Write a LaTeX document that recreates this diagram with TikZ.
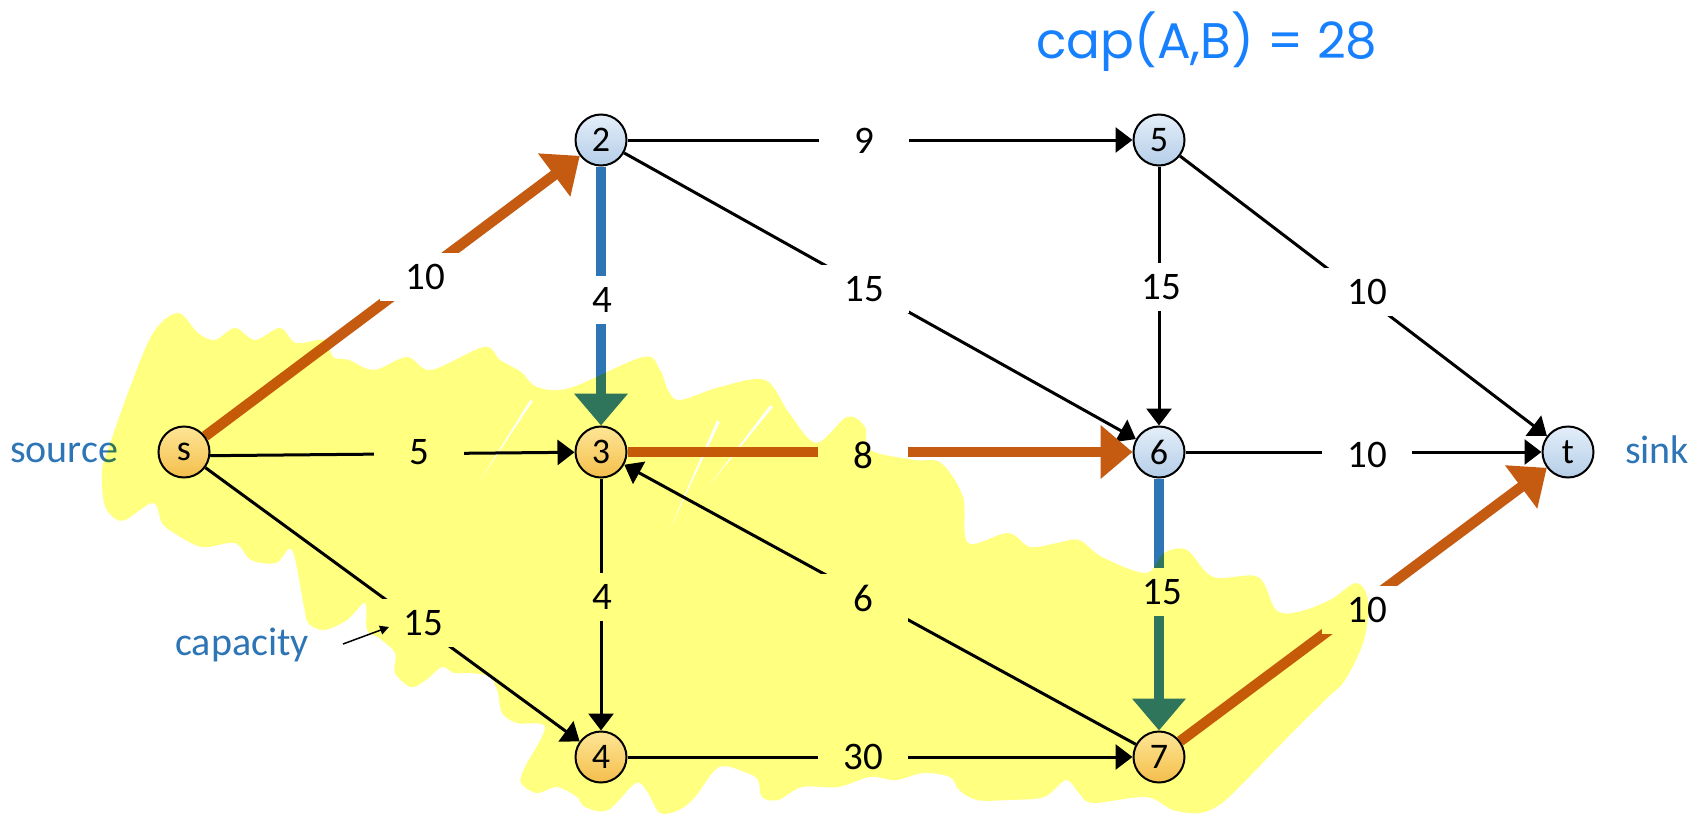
\documentclass[tikz,border=0pt]{standalone}
\usepackage{fontspec}
\setmainfont{Carlito}
\newfontfamily\handfont{Poppins}
\usetikzlibrary{arrows.meta}
\pgfdeclarelayer{edgelayer}
\pgfdeclarelayer{inklayer}
\pgfsetlayers{edgelayer,inklayer,main}

\definecolor{flowor}{RGB}{197,90,17}
\definecolor{flowbl}{RGB}{46,117,182}
\definecolor{inkyel}{RGB}{255,255,128}
\definecolor{inkblue}{RGB}{22,128,255}
\definecolor{sideblue}{RGB}{46,117,182}
\definecolor{vbtop}{RGB}{228,238,249}
\definecolor{vbbot}{RGB}{180,206,232}
\definecolor{votop}{RGB}{254,230,150}
\definecolor{vobot}{RGB}{244,190,75}

\begin{document}
\begin{tikzpicture}[x=1pt,y=-1pt,
  vert/.style={circle,draw=black,line width=2pt,minimum size=51pt,inner sep=0pt,
    font=\fontsize{36}{42}\selectfont},
  vb/.style={vert,top color=vbtop,bottom color=vbbot},
  vo/.style={vert,top color=votop,bottom color=vobot},
  wlabel/.style={fill=white,minimum width=90pt,minimum height=48pt,inner sep=0pt,
    font=\fontsize{39}{46}\selectfont},
  plain/.style={draw=black,line width=3pt,-{Triangle[length=17pt,width=25pt]}},
  cutor/.style={draw=flowor,line width=10.5pt,-{Triangle[length=32pt,width=52pt]}},
  cutbl/.style={draw=flowbl,line width=10.5pt,-{Triangle[length=32pt,width=52pt]}},
  side/.style={text=sideblue,font=\fontsize{40}{46}\selectfont,anchor=base},
  pointer/.style={draw=black,line width=1.5pt,-{Triangle[length=9pt,width=9pt]}}
]
\useasboundingbox (0,0) rectangle (1708,816);

% vertices
\node[vo] (s)  at (184,452)  {s};
\node[vb] (n2) at (601,140)  {2};
\node[vo] (n3) at (601,452)  {3};
\node[vo] (n4) at (601,757)  {4};
\node[vb] (n5) at (1159,140) {5};
\node[vb] (n6) at (1159,452) {6};
\node[vo] (n7) at (1159,757) {7};
\node[vb] (t)  at (1568,452) {t};

\begin{pgfonlayer}{edgelayer}
  \fill[white] (0,0) rectangle (1708,816);

  % arcs
  \draw[cutor] (s) -- (n2);
  \draw[plain] (n2) -- (n5);
  \draw[cutbl] (n2) -- (n3);
  \draw[plain] (n2) -- (n6);
  \draw[plain] (n5) -- (n6);
  \draw[plain] (n5) -- (t);
  \draw[plain] (s.-8) -- (n3);
  \draw[cutor] (n3) -- (n6);
  \draw[plain] (n6) -- (t);
  \draw[plain] (s) -- (n4);
  \draw[plain] (n3) -- (n4);
  \draw[plain] (n7) -- (n3);
  \draw[cutbl] (n6) -- (n7);
  \draw[cutor] (n7) -- (t);
  \draw[plain] (n4) -- (n7);

  % capacities
  \node[wlabel] (c12) at (425,277)  {10};
  \node[wlabel] (c25) at (864,141)  {9};
  \node[wlabel] (c23) at (602,300)  {4};
  \node[wlabel] (c26) at (864,289)  {15};
  \node[wlabel] (c56) at (1161,287) {15};
  \node[wlabel] (c5t) at (1367,292) {10};
  \node[wlabel] (c13) at (419,452)  {5};
  \node[wlabel] (c36) at (863,455)  {8};
  \node[wlabel] (c6t) at (1367,455) {10};
  \node[wlabel] (c14) at (423,623)  {15};
  \node[wlabel] (c34) at (602,597)  {4};
  \node[wlabel] (c73) at (863,598)  {6};
  \node[wlabel] (c67) at (1162,592) {15};
  \node[wlabel] (c7t) at (1367,610) {10};
  \node[wlabel] (c47) at (863,757)  {30};

  % side notes
  \node[side] (srcnote)  at (64,462)   {source};
  \node[side] (sinknote) at (1657,463) {sink};
  \node[side] (capnote)  at (242,655)  {capacity};
  \coordinate (capfrom) at (343,644);
  \coordinate (capto)   at (389,627);
  \draw[pointer] (capfrom) -- (capto);
\end{pgfonlayer}

\begin{pgfonlayer}{inklayer}
  % highlighter stroke around the source side of the cut,
  % with a few thin gaps left between the pen strokes
  \begin{scope}[blend mode=multiply]
  \fill[inkyel, even odd rule] plot[smooth cycle, tension=0.55] coordinates {
    (104,503) (102,470) (109,447) (129,390) (153,333) (178,313) (198,333)
    (215,340) (235,328) (255,340) (280,328) (296,343) (325,340) (333,357)
    (349,360) (374,370) (407,357) (431,370) (484,347) (500,360) (521,372)
    (537,387) (570,388) (643,357) (660,370) (668,390) (680,400) (720,387)
    (765,380) (789,413) (816,443) (847,417) (865,427) (870,450) (914,460)
    (941,463) (963,497) (968,543) (1008,533) (1030,547) (1057,543)
    (1079,540) (1102,557) (1146,573) (1164,553) (1187,550) (1213,577)
    (1258,577) (1276,610) (1298,612) (1330,600) (1356,583) (1368,600)
    (1364,640) (1345,680) (1325,700) (1280,745) (1249,777) (1222,803)
    (1200,813) (1173,810) (1146,797) (1093,803) (1079,793) (1066,780)
    (1044,797) (1008,800) (977,800) (959,790) (950,777) (923,773)
    (896,780) (870,777) (838,787) (802,787) (778,800) (762,797) (758,780)
    (747,773) (719,767) (695,797) (679,810) (660,813) (648,793) (636,783)
    (608,810) (585,807) (577,797) (557,787) (537,793) (521,783) (525,767)
    (545,727) (517,723) (502,713) (498,693) (490,677) (470,673) (454,673)
    (442,667) (426,680) (411,687) (395,673) (395,653) (379,638) (367,630)
    (365,603) (347,620) (324,630) (308,623) (304,607) (292,550) (276,563)
    (251,560) (235,543) (202,547) (174,533) (162,523) (153,503) (125,520)
    (113,517)
  }
  (530,400) -- (533,401) -- (472,493) -- cycle
  (717,420) -- (720,422) -- (664,542) -- cycle
  (770,405) -- (773,407) -- (700,497) -- cycle;
  \end{scope}
  \node[text=inkblue,font=\handfont\fontsize{50}{56}\selectfont] (capAB)
    at (1207,42) {cap(A,B) = 28};
\end{pgfonlayer}
\end{tikzpicture}
\end{document}
